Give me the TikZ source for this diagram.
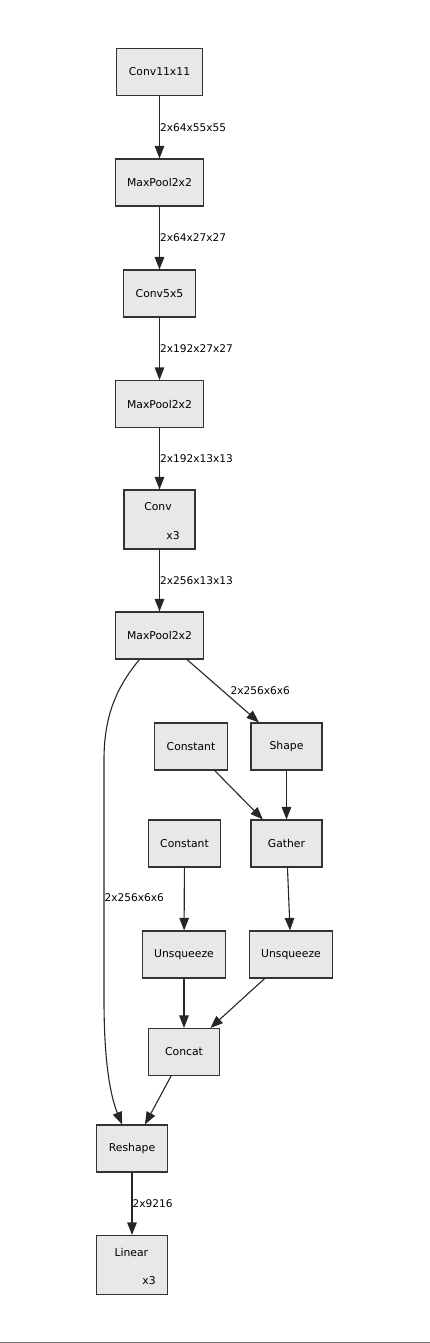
\documentclass[tikz,border=0pt]{standalone}
\usepackage{fontspec}
\setmainfont{DejaVu Sans}
\usetikzlibrary{arrows.meta}

\begin{document}
\begin{tikzpicture}[x=1pt, y=-1pt,
        op/.style={rectangle, draw=black!80, fill=gray!18, line width=1.1pt,
            minimum width=71pt, minimum height=47pt, inner xsep=12pt,
            font=\fontsize{10.8}{13}\selectfont},
        oprep/.style={op, minimum height=59pt},
        txt/.style={inner sep=0pt, font=\fontsize{10.8}{13}\selectfont},
        lbl/.style={anchor=west, inner sep=0pt, font=\fontsize{10.6}{13}\selectfont},
        edge/.style={draw=black!85, line width=1.1pt, -{Triangle[length=12.5pt, width=9.5pt]}}]

            \useasboundingbox (0,0) rectangle (430,1343);

            % Bottom rule
            \draw[black!55, line width=1pt] (0,1342) -- (430,1342);

            % Main chain
            \node[op] (conv1) at (159.5,72) {Conv11x11};
            \node[op] (pool1) at (159.5,182.5) {MaxPool2x2};
            \node[op] (conv2) at (159.5,293.5) {Conv5x5};
            \node[op] (pool2) at (159.5,404) {MaxPool2x2};
            \node[oprep] (conv3) at (159.5,519.5) {};
            \node[txt] (conv3name) at (158,507) {Conv};
            \node[txt] (conv3rep) at (173,536) {x3};
            \node[op] (pool3) at (159.5,635.5) {MaxPool2x2};

            % Shape branch
            \node[op] (const1) at (191,746.5) {Constant};
            \node[op] (shape) at (286.5,746.5) {Shape};
            \node[op] (const2) at (184.5,843.5) {Constant};
            \node[op] (gather) at (286.5,843.5) {Gather};
            \node[op] (unsq1) at (184,954.5) {Unsqueeze};
            \node[op] (unsq2) at (291,954.5) {Unsqueeze};
            \node[op] (concat) at (184,1052) {Concat};

            % Head
            \node[op] (reshape) at (132,1148.5) {Reshape};
            \node[oprep] (linear) at (132,1265) {};
            \node[txt] (linearname) at (131.3,1252.7) {Linear};
            \node[txt] (linearrep) at (149,1280.7) {x3};

            % Edges
            \draw[edge] (conv1) -- node[lbl] {2x64x55x55} (pool1);
            \draw[edge] (pool1) -- node[lbl] {2x64x27x27} (conv2);
            \draw[edge] (conv2) -- node[lbl] {2x192x27x27} (pool2);
            \draw[edge] (pool2) -- node[lbl] {2x192x13x13} (conv3);
            \draw[edge] (conv3) -- node[lbl] {2x256x13x13} (pool3);
            \draw[edge] (pool3) -- node[lbl, xshift=7pt] {2x256x6x6} (shape);
            \draw[edge] (const1) -- (gather);
            \draw[edge] (shape) -- (gather);
            \draw[edge] (const2) -- (unsq1);
            \draw[edge] (gather) -- (unsq2);
            \draw[edge] (unsq1) -- (concat);
            \draw[edge] (unsq2) -- (concat);
            \draw[edge] (concat) -- (reshape);
            \draw[edge] (reshape) -- node[lbl] {2x9216} (linear);

            % Skip connection
            \coordinate (skiptop) at (104,760);
            \coordinate (skipbot) at (104,1000);
            \draw[edge] (pool3) .. controls (114,690) and (104,720) .. (skiptop)
                -- node[lbl, pos=0.575] {2x256x6x6} (skipbot)
                .. controls (104,1060) and (110,1095) .. (reshape);
\end{tikzpicture}
\end{document}
